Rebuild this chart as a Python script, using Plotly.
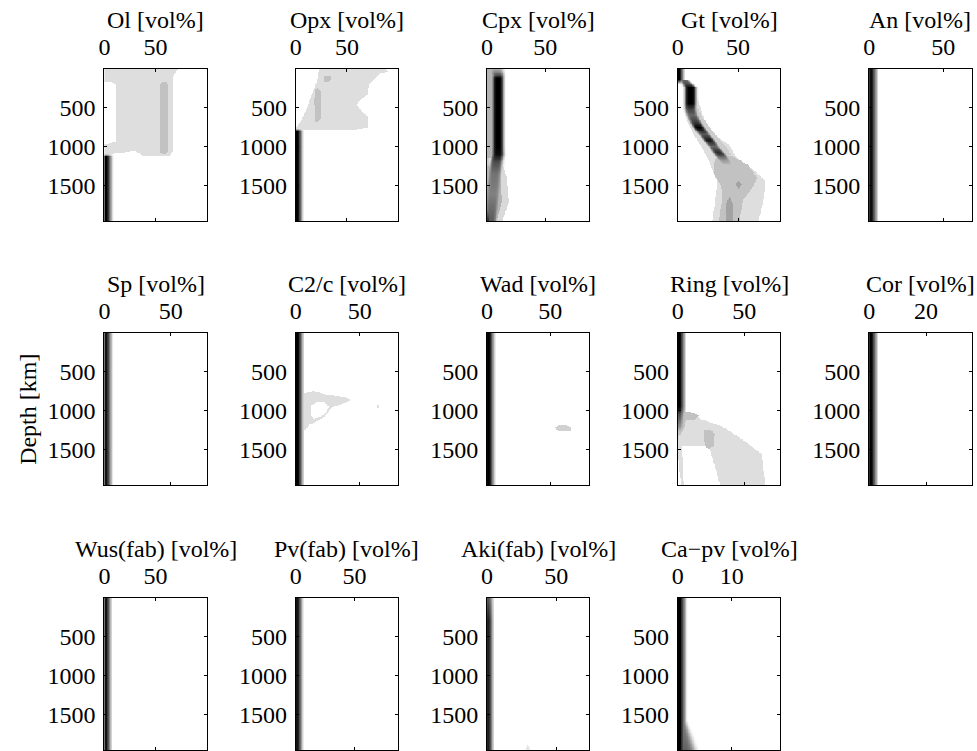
import numpy as np
import plotly.graph_objects as go

# ---------------- data ----------------
DEPTH = np.arange(10, 1951, 10)          # depth grid [km]
DEPTH_RANGE = [1950, 10]

TITLES = ["Ol [vol%]", "Opx [vol%]", "Cpx [vol%]", "Gt [vol%]", "An [vol%]",
          "Sp [vol%]", "C2/c [vol%]", "Wad [vol%]", "Ring [vol%]", "Cor [vol%]",
          "Wus(fab) [vol%]", "Pv(fab) [vol%]", "Aki(fab) [vol%]", "Ca\u2212pv [vol%]"]
XMAX = [100, 100, 88, 85, 69, 77, 80, 81, 77, 36, 100, 87, 74, 19]
XTICKS = [[0, 50]] * 9 + [[0, 20]] + [[0, 50]] * 3 + [[0, 10]]
YTICKS = [500, 1000, 1500]

# density levels of the filled contour bands
LIGHT, MID, DARK = 0.13, 0.24, 0.36

# --- Ol
OL_STRIP_DEPTH = [10, 1090, 1130, 1950]
OL_STRIP_LEVEL = [0, 0, 1, 1]
OL_STRIP_WIDTH = 9
OL_LIGHT = [(0, 10), (72, 10), (67, 110), (67, 1050), (63, 1130), (37, 1110), (30, 1050),
            (9, 1090), (0, 1100), (0, 965), (5, 960), (11, 940), (11, 200), (7, 175), (0, 175)]
OL_MID = [(56, 175), (61, 172), (62.5, 210), (62.5, 1060), (60, 1095), (56, 1092),
          (54.5, 1060), (54.5, 210)]

# --- Opx
OPX_STRIP_DEPTH = [10, 770, 800, 1950]
OPX_STRIP_LEVEL = [0, 0, 1, 1]
OPX_STRIP_WIDTH = 8
OPX_LIGHT = [(23, 10), (88, 10), (90, 40), (82, 70), (72, 200), (70, 340), (62, 420), (60, 470),
             (64, 540), (71, 620), (71, 760), (60, 780), (5, 785), (0, 800), (0, 770), (6, 650),
             (10, 540), (16, 325), (21, 154)]
OPX_MID_A = [(19, 270), (22, 255), (24.5, 300), (24.5, 640), (22, 690), (18.5, 680), (18, 400)]
OPX_MID_B = [(28, 100), (33, 90), (35, 110), (33, 170), (28, 175)]

# --- Cpx
CPX_STRIP_DEPTH = [10, 1700, 1950]
CPX_STRIP_LEVEL = [0, 0.3, 0.85]
CPX_STRIP_WIDTH = 4
CPX_RIDGE_DEPTH = [10, 90, 130, 1000, 1100, 1200, 1350, 1600, 1950]
CPX_RIDGE_CENTER = [8, 9.5, 9.5, 9.5, 9.5, 8, 6.5, 5, 3]
CPX_RIDGE_SIGMA = [5, 4.2, 4, 4, 4.2, 4.5, 5, 5.5, 4.5]
CPX_RIDGE_PEAK = [0.3, 0.7, 1, 1, 0.95, 0.7, 0.55, 0.5, 0.65]
CPX_LEFT = [(0, 10), (8, 10), (7, 1150), (5, 1300), (0, 1400)]
CPX_LOW_LIGHT = [(0, 1150), (12, 1150), (17, 1400), (19, 1700), (13, 1950), (0, 1950)]
CPX_LOW_MID = [(0, 1250), (8, 1250), (12, 1450), (13, 1700), (8, 1950), (0, 1950)]

# --- Gt
GT_STRIP_DEPTH = [10, 150, 200, 1950]
GT_STRIP_LEVEL = [1, 1, 0, 0]
GT_STRIP_WIDTH = 6
GT_RIDGE_DEPTH = [150, 200, 250, 450, 520, 600, 680, 760, 840, 920, 1000, 1080, 1160, 1250]
GT_RIDGE_CENTER = [5, 8, 10.5, 10.5, 10.5, 12, 14.5, 17.5, 22, 26, 30, 34, 38, 42]
GT_RIDGE_SIGMA = [3, 3.5, 4, 4, 4, 4, 4, 4, 4, 3.8, 3.8, 3.8, 4.5, 5]
GT_RIDGE_PEAK = [0.6, 0.7, 1, 1, 0.75, 0.6, 0.75, 1, 0.65, 0.9, 0.6, 0.85, 0.45, 0.2]
GT_LIGHT = [(5, 200), (14, 210), (17, 417), (21.5, 629), (28.5, 841), (42, 969), (49, 1139),
            (64, 1309), (72.6, 1437), (71, 1692), (67, 1950), (28.5, 1950), (31, 1692),
            (32.6, 1437), (25.7, 1181), (20, 1011), (13, 841), (7.7, 672), (6.3, 250)]
GT_HALO = [(8, 450), (14, 430), (20, 620), (27, 760), (33, 880), (40, 1000), (44, 1100),
           (36, 1150), (28, 1020), (20, 900), (13, 780), (9, 620)]
GT_MID = [(33, 1110), (45, 1120), (58, 1228), (66, 1398), (61, 1548), (54, 1679), (51, 1950),
          (34, 1950), (36.7, 1679), (36, 1500), (30, 1352), (30, 1200)]
GT_DARK_A = [(50.5, 1430), (53, 1480), (50.5, 1535), (48, 1480)]
GT_DARK_B = [(42.8, 1630), (46, 1750), (46, 1950), (39.5, 1950), (39.5, 1750)]

# --- An, Sp
AN_STRIP_DEPTH = [10, 1950]
AN_STRIP_LEVEL = [0.95, 0.95]
AN_STRIP_WIDTH = 6.5
SP_STRIP_DEPTH = [10, 1950]
SP_STRIP_LEVEL = [0.92, 0.92]
SP_STRIP_WIDTH = 6.8

# --- C2/c
C2C_STRIP_DEPTH = [10, 1950]
C2C_STRIP_LEVEL = [1, 1]
C2C_STRIP_WIDTH = 7
C2C_LIGHT = [(5, 790), (9, 770), (14, 757), (19, 770), (25, 800), (30, 810), (40.5, 833),
             (43, 863), (40, 895), (30, 947), (27, 975), (25, 1030), (21, 1095), (16, 1140),
             (11, 1180), (7.6, 1247), (5, 1250)]
C2C_HOLE = [(12, 930), (16.8, 892), (22, 892), (26, 947), (23.4, 1032), (18, 1087),
            (14, 1104), (12, 1053)]
C2C_SPECK = [(63.5, 930), (64.8, 930), (64.8, 965), (63.5, 965)]

# --- Wad
WAD_STRIP_DEPTH = [10, 1950]
WAD_STRIP_LEVEL = [1, 1]
WAD_STRIP_WIDTH = 7
WAD_LIGHT = [(54, 1210), (57, 1185), (63, 1190), (67, 1215), (66, 1260), (58, 1265), (55, 1240)]

# --- Ring
RING_STRIP_DEPTH = [10, 950, 1050, 1200, 1350, 1950]
RING_STRIP_LEVEL = [1, 1, 0.7, 0.45, 0, 0]
RING_STRIP_WIDTH = 6.5
RING_LIGHT = [(0, 980), (8, 1025), (18, 1112), (33, 1200), (45.6, 1330), (55.6, 1460),
              (63, 1548), (65.7, 1950), (31.8, 1950), (23.6, 1460), (3, 1460), (4.5, 1950),
              (2.5, 1950), (0, 1550)]
RING_MID_HOOK = [(0, 1000), (10, 1020), (16, 1060), (13, 1110), (6, 1130), (4, 1250),
                 (1, 1330), (0, 1330)]
RING_MID_BLOB = [(20, 1250), (25, 1240), (27.5, 1300), (27, 1450), (24, 1485), (21, 1470),
                 (19.5, 1350)]

# --- Cor, Wus, Pv
COR_STRIP_DEPTH = [10, 1950]
COR_STRIP_LEVEL = [1, 1]
COR_STRIP_WIDTH = 3.3
WUS_STRIP_DEPTH = [10, 1950]
WUS_STRIP_LEVEL = [0.92, 0.92]
WUS_STRIP_WIDTH = 8
PV_STRIP_DEPTH = [10, 1950]
PV_STRIP_LEVEL = [0.92, 0.92]
PV_STRIP_WIDTH = 7

# --- Aki
AKI_STRIP_DEPTH = [10, 300, 1950]
AKI_STRIP_LEVEL = [0.65, 0.88, 0.88]
AKI_STRIP_WIDTH = 5.5
AKI_RIDGE_DEPTH = [1400, 1550, 1750, 1950]
AKI_RIDGE_CENTER = [1.5, 2, 2, 2]
AKI_RIDGE_SIGMA = [1.5, 2, 2, 1.8]
AKI_RIDGE_PEAK = [0, 0.45, 0.35, 0.3]
AKI_SPIKE = [(28, 1950), (29.5, 1860), (31, 1950)]

# --- Ca-pv
CAPV_STRIP_DEPTH = [10, 1950]
CAPV_STRIP_LEVEL = [1, 1]
CAPV_STRIP_WIDTH = 1.8
CAPV_RIDGE_DEPTH = [1450, 1600, 1800, 1950]
CAPV_RIDGE_CENTER = [0.2, 0.4, 0.6, 0.8]
CAPV_RIDGE_SIGMA = [0.6, 1.0, 1.6, 2.0]
CAPV_RIDGE_PEAK = [0, 0.55, 0.58, 0.62]

# ---------------- assemble panel table ----------------
STRIPS = [
    (OL_STRIP_DEPTH, OL_STRIP_LEVEL, OL_STRIP_WIDTH),
    (OPX_STRIP_DEPTH, OPX_STRIP_LEVEL, OPX_STRIP_WIDTH),
    (CPX_STRIP_DEPTH, CPX_STRIP_LEVEL, CPX_STRIP_WIDTH),
    (GT_STRIP_DEPTH, GT_STRIP_LEVEL, GT_STRIP_WIDTH),
    (AN_STRIP_DEPTH, AN_STRIP_LEVEL, AN_STRIP_WIDTH),
    (SP_STRIP_DEPTH, SP_STRIP_LEVEL, SP_STRIP_WIDTH),
    (C2C_STRIP_DEPTH, C2C_STRIP_LEVEL, C2C_STRIP_WIDTH),
    (WAD_STRIP_DEPTH, WAD_STRIP_LEVEL, WAD_STRIP_WIDTH),
    (RING_STRIP_DEPTH, RING_STRIP_LEVEL, RING_STRIP_WIDTH),
    (COR_STRIP_DEPTH, COR_STRIP_LEVEL, COR_STRIP_WIDTH),
    (WUS_STRIP_DEPTH, WUS_STRIP_LEVEL, WUS_STRIP_WIDTH),
    (PV_STRIP_DEPTH, PV_STRIP_LEVEL, PV_STRIP_WIDTH),
    (AKI_STRIP_DEPTH, AKI_STRIP_LEVEL, AKI_STRIP_WIDTH),
    (CAPV_STRIP_DEPTH, CAPV_STRIP_LEVEL, CAPV_STRIP_WIDTH),
]
RIDGES = [[], [],
          [(CPX_RIDGE_DEPTH, CPX_RIDGE_CENTER, CPX_RIDGE_SIGMA, CPX_RIDGE_PEAK)],
          [(GT_RIDGE_DEPTH, GT_RIDGE_CENTER, GT_RIDGE_SIGMA, GT_RIDGE_PEAK)],
          [], [], [], [], [], [], [], [],
          [(AKI_RIDGE_DEPTH, AKI_RIDGE_CENTER, AKI_RIDGE_SIGMA, AKI_RIDGE_PEAK)],
          [(CAPV_RIDGE_DEPTH, CAPV_RIDGE_CENTER, CAPV_RIDGE_SIGMA, CAPV_RIDGE_PEAK)]]
PATCHES = [
    [(LIGHT, OL_LIGHT), (MID, OL_MID)],
    [(LIGHT, OPX_LIGHT), (MID, OPX_MID_A), (MID, OPX_MID_B)],
    [(0.3, CPX_LEFT), (0.15, CPX_LOW_LIGHT), (0.3, CPX_LOW_MID)],
    [(LIGHT, GT_LIGHT), (0.2, GT_HALO), (MID, GT_MID), (DARK, GT_DARK_A), (DARK, GT_DARK_B)],
    [], [],
    [(LIGHT, C2C_LIGHT), (0.0, C2C_HOLE), (LIGHT, C2C_SPECK)],
    [(0.18, WAD_LIGHT)],
    [(LIGHT, RING_LIGHT), (MID, RING_MID_HOOK), (MID, RING_MID_BLOB)],
    [], [], [],
    [(0.1, AKI_SPIKE)],
    [],
]


def poly_mask(X, Y, poly):
    px = np.array([p[0] for p in poly], float)
    py = np.array([p[1] for p in poly], float)
    inside = np.zeros(X.shape, bool)
    j = len(poly) - 1
    for i in range(len(poly)):
        xi, yi, xj, yj = px[i], py[i], px[j], py[j]
        if yi != yj:
            cond = ((yi > Y) != (yj > Y)) & (X < (xj - xi) * (Y - yi) / (yj - yi) + xi)
            inside ^= cond
        j = i
    return inside


def panel_z(xmax, strip, ridges, patches):
    xs = np.linspace(0, xmax, 161)
    X, Y = np.meshgrid(xs, DEPTH)
    zp = np.zeros(X.shape)
    for level, poly in patches:
        zp[poly_mask(X, Y, poly)] = level
    sd, sl, sw = strip
    lev = np.interp(DEPTH, sd, sl)[:, None]
    u = X / sw
    zs = lev * np.clip(1.35 * (1 - u), 0, 1)
    z = np.maximum(zp, zs)
    for rd, rc, rs, rp in ridges:
        c = np.interp(DEPTH, rd, rc)[:, None]
        s = np.interp(DEPTH, rd, rs)[:, None]
        p = np.interp(DEPTH, rd, rp, left=0, right=0)[:, None]
        z = np.maximum(z, p * np.exp(-0.5 * (np.abs(X - c) / s) ** 4))
    return xs, np.round(z, 3)


# ---------------- figure ----------------
W, H = 977, 751
COL_LEFT = [99, 291.5, 484, 676, 868.5]
ROW_TOP = [69, 333, 598]
PW, PH = 103, 152
FONT = "Liberation Serif"
FS = 24

fig = go.Figure()
annotations = []
for k in range(14):
    row, col = divmod(k, 5)
    left, top = COL_LEFT[col], ROW_TOP[row]
    n = "" if k == 0 else str(k + 1)
    xs, z = panel_z(XMAX[k], STRIPS[k], RIDGES[k], PATCHES[k])
    fig.add_trace(go.Heatmap(
        x=xs, y=DEPTH, z=z, zmin=0, zmax=1,
        colorscale=[[0, "white"], [1, "black"]], showscale=False,
        hoverinfo="skip", xaxis="x" + n, yaxis="y" + n))
    axis_common = dict(showline=True, linecolor="black", linewidth=1, mirror="ticks",
                       ticks="inside", ticklen=3, tickcolor="black", showgrid=False,
                       zeroline=False, ticklabelstandoff=3,
                       tickfont=dict(family=FONT, size=FS, color="black"))
    fig.layout["xaxis" + n] = dict(domain=[left / W, (left + PW) / W], anchor="y" + n,
                                   side="top", range=[0, XMAX[k]], tickvals=XTICKS[k],
                                   **axis_common)
    fig.layout["yaxis" + n] = dict(domain=[1 - (top + PH) / H, 1 - top / H], anchor="x" + n,
                                   range=DEPTH_RANGE, tickvals=YTICKS, **axis_common)
    annotations.append(dict(text=TITLES[k], x=(left + PW / 2) / W, y=1 - (top - 49) / H,
                            xref="paper", yref="paper", showarrow=False,
                            xanchor="center", yanchor="middle",
                            font=dict(family=FONT, size=FS, color="black")))

annotations.append(dict(text="Depth [km]", x=22 / W, y=1 - 409 / H, xref="paper", yref="paper",
                        showarrow=False, textangle=-90, xanchor="center", yanchor="middle",
                        font=dict(family=FONT, size=FS, color="black")))

fig.update_layout(width=W, height=H, margin=dict(l=0, r=0, t=0, b=0),
                  paper_bgcolor="white", plot_bgcolor="white",
                  annotations=annotations, showlegend=False)
fig.write_html("out.html", config={"displayModeBar": False},
               post_script="document.body.style.margin='0';document.body.style.overflow='hidden';")
